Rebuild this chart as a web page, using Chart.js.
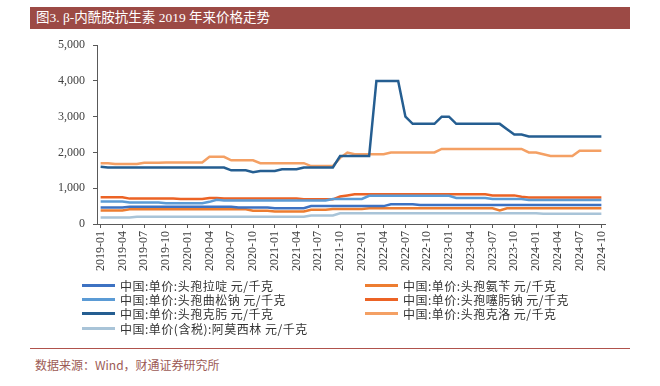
<!DOCTYPE html>
<html>
<head>
<meta charset="utf-8">
<script src="https://cdn.jsdelivr.net/npm/chart.js@4/dist/chart.umd.min.js"></script>
<style>
  body { margin: 0; background: #fff; }
  #wrap { position: relative; width: 660px; height: 386px; overflow: hidden; }
  #title {
    position: absolute; left: 30px; top: 7px; width: 600px; height: 22px;
    background: #9c4a45; color: #fff; font: 13.5px "Liberation Serif", "Noto Sans CJK SC", serif;
    line-height: 22px; padding-left: 6px; box-sizing: border-box;
  }
  #chart { position: absolute; left: 0; top: 30px; }
  #legend {
    position: absolute; left: 82px; top: 278px;
    display: grid; grid-template-columns: 283px 250px; row-gap: 0;
    font: 12px "Noto Sans CJK SC", sans-serif; color: #333; letter-spacing: 0.5px;
  }
  .item { display: flex; align-items: center; height: 14.3px; white-space: nowrap; }
  .swatch { width: 33px; height: 3px; margin-right: 5px; }
  #rule { position: absolute; left: 30px; top: 348px; width: 600px; height: 1px; background: #b0524c; }
  #source {
    position: absolute; left: 35px; top: 356px;
    font: 12px "Noto Sans CJK SC", sans-serif; color: #9c5a55;
  }
</style>
</head>
<body>
<div id="wrap">
  <div id="title">图3. β-内酰胺抗生素 2019 年来价格走势</div>
  <canvas id="chart" width="660" height="250"></canvas>
  <div id="legend"></div>
  <div id="rule"></div>
  <div id="source">数据来源：Wind，财通证券研究所</div>
</div>
<script>
// months 2019-01 .. 2024-10
const months = [
  "2019-01","2019-02","2019-03","2019-04","2019-05","2019-06","2019-07","2019-08","2019-09","2019-10","2019-11","2019-12",
  "2020-01","2020-02","2020-03","2020-04","2020-05","2020-06","2020-07","2020-08","2020-09","2020-10","2020-11","2020-12",
  "2021-01","2021-02","2021-03","2021-04","2021-05","2021-06","2021-07","2021-08","2021-09","2021-10","2021-11","2021-12",
  "2022-01","2022-02","2022-03","2022-04","2022-05","2022-06","2022-07","2022-08","2022-09","2022-10","2022-11","2022-12",
  "2023-01","2023-02","2023-03","2023-04","2023-05","2023-06","2023-07","2023-08","2023-09","2023-10","2023-11","2023-12",
  "2024-01","2024-02","2024-03","2024-04","2024-05","2024-06","2024-07","2024-08","2024-09","2024-10"
];

const names = [
  "中国:单价:头孢拉啶 元/千克",
  "中国:单价:头孢氨苄 元/千克",
  "中国:单价:头孢曲松钠 元/千克",
  "中国:单价:头孢噻肟钠 元/千克",
  "中国:单价:头孢克肟 元/千克",
  "中国:单价:头孢克洛 元/千克",
  "中国:单价(含税):阿莫西林 元/千克"
];
const colors = ["#3d72c2", "#ed7d31", "#5b9bd5", "#ec6325", "#255e91", "#f4a064", "#a9c4d8"];

const cefradine = [
  460,460,460,460,480,480,480,480,480,480,480,480,
  480,480,480,480,480,480,480,460,460,460,460,460,
  440,440,440,440,440,500,500,500,500,500,500,500,
  500,500,500,500,550,550,550,550,530,530,530,530,
  530,530,530,530,530,530,530,530,530,530,530,530,
  530,530,530,530,530,530,530,530,530,530
];
const cefalexin = [
  380,380,380,380,410,410,410,410,410,410,410,410,
  410,410,410,410,410,410,410,410,410,370,370,370,
  350,350,350,350,350,400,400,400,420,420,420,420,
  420,440,440,440,440,440,440,440,440,440,440,440,
  440,440,440,440,440,440,440,380,440,440,440,440,
  440,440,440,440,440,440,440,440,440,440
];
const ceftriaxone = [
  630,630,630,630,600,600,600,600,600,580,580,580,
  580,580,580,620,680,660,660,660,660,660,660,660,
  660,660,660,660,660,660,660,660,700,700,700,700,
  700,790,790,790,790,790,790,790,790,790,790,790,
  790,730,730,730,730,730,700,700,700,700,700,670,
  670,670,670,670,670,670,670,670,670,670
];
const cefotaxime = [
  750,750,750,750,710,710,710,710,710,710,710,700,
  700,700,700,730,730,710,710,710,710,710,710,710,
  710,710,710,710,690,690,690,690,690,770,800,830,
  830,830,830,830,830,830,830,830,830,830,830,830,
  830,830,830,830,830,830,800,800,800,800,760,740,
  740,740,740,740,740,740,740,740,740,740
];
const cefixime = [
  1600,1580,1580,1580,1580,1580,1580,1580,1580,1580,1580,1580,
  1580,1580,1580,1580,1580,1580,1500,1500,1500,1450,1480,1480,
  1480,1530,1530,1530,1580,1580,1580,1580,1580,1900,1900,1900,
  1900,1900,4000,4000,4000,4000,3000,2800,2800,2800,2800,3000,
  3000,2800,2800,2800,2800,2800,2800,2800,2650,2500,2500,2450,
  2450,2450,2450,2450,2450,2450,2450,2450,2450,2450
];
const cefaclor = [
  1700,1700,1680,1680,1680,1680,1710,1710,1710,1720,1720,1720,
  1720,1720,1720,1880,1880,1880,1780,1780,1780,1780,1700,1700,
  1700,1700,1700,1700,1700,1620,1620,1620,1620,1850,2000,1950,
  1950,1950,1950,1950,2000,2000,2000,2000,2000,2000,2000,2100,
  2100,2100,2100,2100,2100,2100,2100,2100,2100,2100,2100,2000,
  2000,1950,1900,1900,1900,1900,2050,2050,2050,2050
];
const amoxicillin = [
  180,180,180,180,180,200,200,200,200,200,200,200,
  200,200,200,200,200,200,200,200,200,200,200,200,
  200,200,200,200,200,240,240,240,240,300,300,300,
  300,300,300,300,300,300,300,300,300,300,300,300,
  300,300,300,300,300,300,300,300,300,300,300,300,
  300,290,290,290,290,290,290,290,290,290
];

const series = [cefradine, cefalexin, ceftriaxone, cefotaxime, cefixime, cefaclor, amoxicillin];

const axisColor = "#595959";
const tickFont = { family: "Liberation Serif", size: 12 };

const chart = new Chart(document.getElementById("chart"), {
  type: "line",
  data: {
    labels: months,
    datasets: series.map((s, i) => ({
      label: names[i],
      data: s,
      borderColor: colors[i],
      backgroundColor: colors[i],
      borderWidth: 2.5,
      pointRadius: 0,
      tension: 0,
      fill: false
    }))
  },
  options: {
    responsive: false,
    animation: false,
    layout: { padding: { top: 11, right: 55, left: 0, bottom: 0 } },
    plugins: { legend: { display: false }, tooltip: { enabled: false } },
    scales: {
      x: {
        offset: true,
        grid: { display: true, drawOnChartArea: false, drawTicks: true, tickLength: 4, color: axisColor },
        border: { color: axisColor },
        ticks: {
          autoSkip: false, maxRotation: 90, minRotation: 90, padding: 3,
          color: "#404040", font: tickFont,
          callback: function (v, i) { return i % 3 === 0 ? months[i] : null; }
        },
        afterFit: (scale) => { scale.height = 56; }
      },
      y: {
        min: 0, max: 5000,
        grid: { display: true, drawOnChartArea: false, drawTicks: true, tickLength: 4, color: axisColor },
        border: { color: axisColor },
        ticks: {
          stepSize: 1000, padding: 8, color: "#404040", font: tickFont,
          callback: (v) => v.toLocaleString("en-US")
        },
        afterFit: (scale) => { scale.width = 97; }
      }
    }
  }
});

// two-column legend built from the datasets
const legend = document.getElementById("legend");
chart.data.datasets.forEach((ds) => {
  const item = document.createElement("div");
  item.className = "item";
  item.innerHTML = `<span class="swatch" style="background:${ds.borderColor}"></span><span>${ds.label}</span>`;
  legend.appendChild(item);
});
</script>
</body>
</html>
